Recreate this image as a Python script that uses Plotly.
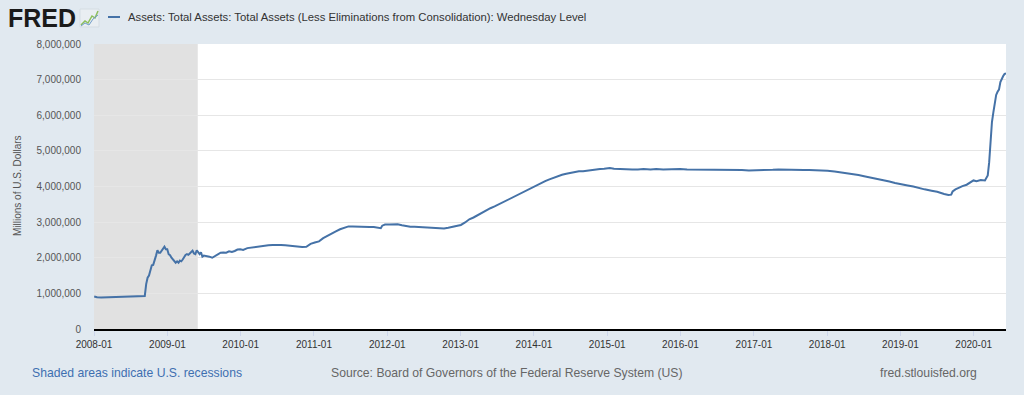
import plotly.graph_objects as go

# ---------------- data (millions of U.S. dollars, Wednesday level) ----------------
dates = [
    "2008-01-02", "2008-01-16", "2008-02-06", "2008-03-05", "2008-04-02", "2008-05-07",
    "2008-06-04", "2008-07-02", "2008-08-06", "2008-09-03", "2008-09-10", "2008-09-17",
    "2008-09-24", "2008-10-01", "2008-10-08", "2008-10-15", "2008-10-22", "2008-10-29",
    "2008-11-05", "2008-11-12", "2008-11-19", "2008-11-26", "2008-12-03", "2008-12-10",
    "2008-12-17", "2008-12-24", "2008-12-31",
    "2009-01-07", "2009-01-14", "2009-01-21", "2009-01-28", "2009-02-04", "2009-02-11",
    "2009-02-18", "2009-02-25", "2009-03-04", "2009-03-11", "2009-03-18", "2009-03-25",
    "2009-04-01", "2009-04-08", "2009-04-15", "2009-04-22", "2009-04-29", "2009-05-06",
    "2009-05-13", "2009-05-20", "2009-05-27", "2009-06-03", "2009-06-10", "2009-06-17",
    "2009-06-24", "2009-07-01", "2009-07-15", "2009-07-29", "2009-08-12", "2009-08-26",
    "2009-09-09", "2009-09-23", "2009-10-07", "2009-10-21", "2009-11-04", "2009-11-18",
    "2009-12-02", "2009-12-16", "2009-12-30",
    "2010-01-13", "2010-02-03", "2010-02-24", "2010-03-17", "2010-04-07", "2010-04-28",
    "2010-05-19", "2010-06-09", "2010-06-30", "2010-07-21", "2010-08-11", "2010-09-01",
    "2010-09-22", "2010-10-13", "2010-11-03", "2010-11-24", "2010-12-15",
    "2011-01-05", "2011-01-26", "2011-02-16", "2011-03-09", "2011-03-30", "2011-04-20",
    "2011-05-11", "2011-06-01", "2011-06-22", "2011-07-13", "2011-08-03", "2011-08-24",
    "2011-09-14", "2011-10-05", "2011-10-26", "2011-11-16", "2011-11-30", "2011-12-07",
    "2011-12-21",
    "2012-01-11", "2012-02-01", "2012-02-22", "2012-03-14", "2012-04-04", "2012-04-25",
    "2012-05-16", "2012-06-06", "2012-06-27", "2012-07-18", "2012-08-08", "2012-08-29",
    "2012-09-19", "2012-10-10", "2012-10-31", "2012-11-21", "2012-12-12",
    "2013-01-02", "2013-01-23", "2013-02-13", "2013-03-06", "2013-03-27", "2013-04-17",
    "2013-05-08", "2013-05-29", "2013-06-19", "2013-07-10", "2013-07-31", "2013-08-21",
    "2013-09-11", "2013-10-02", "2013-10-23", "2013-11-13", "2013-12-04", "2013-12-25",
    "2014-01-15", "2014-02-05", "2014-02-26", "2014-03-19", "2014-04-09", "2014-04-30",
    "2014-05-21", "2014-06-11", "2014-07-02", "2014-07-23", "2014-08-13", "2014-09-03",
    "2014-09-24", "2014-10-15", "2014-11-05", "2014-11-26", "2014-12-17",
    "2015-01-14", "2015-02-04", "2015-03-04", "2015-04-01", "2015-05-06", "2015-06-03",
    "2015-07-01", "2015-08-05", "2015-09-02", "2015-10-07", "2015-11-04", "2015-12-02",
    "2015-12-30",
    "2016-02-03", "2016-03-02", "2016-04-06", "2016-05-04", "2016-06-01", "2016-07-06",
    "2016-08-03", "2016-09-07", "2016-10-05", "2016-11-02", "2016-12-07",
    "2017-01-04", "2017-02-01", "2017-03-01", "2017-04-05", "2017-05-03", "2017-06-07",
    "2017-07-05", "2017-08-02", "2017-09-06", "2017-10-04", "2017-11-01", "2017-12-06",
    "2018-01-03", "2018-02-07", "2018-03-07", "2018-04-04", "2018-05-02", "2018-06-06",
    "2018-07-04", "2018-08-01", "2018-09-05", "2018-10-03", "2018-11-07", "2018-12-05",
    "2019-01-02", "2019-02-06", "2019-03-06", "2019-04-03", "2019-05-01", "2019-06-05",
    "2019-07-03", "2019-08-07", "2019-08-28", "2019-09-11", "2019-09-18", "2019-10-02",
    "2019-10-16", "2019-11-06", "2019-11-27", "2019-12-18", "2019-12-31",
    "2020-01-15", "2020-02-05", "2020-02-26", "2020-03-11", "2020-03-18", "2020-03-25",
    "2020-04-01", "2020-04-08", "2020-04-15", "2020-04-22", "2020-04-29", "2020-05-06",
    "2020-05-13", "2020-05-20", "2020-05-27", "2020-06-03", "2020-06-10",
]

total_assets = [
    915000, 890000, 885000, 890000, 885000, 888000,
    895000, 900000, 905000, 906000, 927000, 1260000,
    1440000, 1500000, 1630000, 1790000, 1800000, 1970000,
    2060000, 2210000, 2140000, 2140000, 2190000, 2240000,
    2310000, 2240000, 2240000,
    2100000, 2070000, 2000000, 1950000, 1880000, 1860000,
    1900000, 1860000, 1920000, 1900000, 1950000, 2030000,
    2080000, 2100000, 2080000, 2120000, 2170000, 2200000,
    2120000, 2100000, 2210000, 2140000, 2100000, 2150000,
    2030000, 2060000, 2050000, 2030000, 2000000, 2050000,
    2080000, 2140000, 2150000, 2140000, 2180000, 2160000,
    2190000, 2230000, 2240000,
    2220000, 2270000, 2290000, 2310000, 2330000, 2340000,
    2350000, 2360000, 2370000, 2360000, 2350000, 2340000,
    2310000, 2300000, 2300000, 2310000, 2390000,
    2430000, 2460000, 2550000, 2620000, 2680000, 2740000,
    2800000, 2850000, 2880000, 2880000, 2870000, 2870000,
    2860000, 2860000, 2860000, 2840000, 2830000, 2900000,
    2930000,
    2930000, 2930000, 2940000, 2910000, 2880000, 2870000,
    2870000, 2860000, 2870000, 2860000, 2840000, 2830000,
    2810000, 2820000, 2840000, 2860000, 2890000,
    2920000, 2990000, 3080000, 3130000, 3200000, 3260000,
    3330000, 3390000, 3440000, 3500000, 3560000, 3620000,
    3670000, 3740000, 3800000, 3860000, 3930000, 3990000,
    4050000, 4100000, 4150000, 4200000, 4250000, 4290000,
    4330000, 4360000, 4390000, 4410000, 4430000, 4430000,
    4450000, 4470000, 4480000, 4490000, 4500000,
    4520000, 4500000, 4490000, 4490000, 4480000, 4480000,
    4490000, 4480000, 4490000, 4480000, 4490000, 4490000,
    4490000,
    4480000, 4480000, 4480000, 4480000, 4460000, 4470000,
    4470000, 4460000, 4460000, 4460000, 4450000,
    4450000, 4450000, 4470000, 4470000, 4480000, 4470000,
    4470000, 4460000, 4460000, 4460000, 4460000, 4450000,
    4440000, 4420000, 4400000, 4380000, 4360000, 4320000,
    4290000, 4260000, 4220000, 4190000, 4140000, 4100000,
    4060000, 4030000, 4000000, 3950000, 3920000, 3880000,
    3850000, 3790000, 3760000, 3770000, 3860000, 3920000,
    3960000, 4010000, 4050000, 4130000, 4170000,
    4150000, 4180000, 4170000, 4310000, 4670000, 5250000,
    5810000, 6080000, 6370000, 6570000, 6660000, 6720000,
    6930000, 7040000, 7100000, 7160000, 7170000,
]

recession_start = "2008-01-01"
recession_end = "2009-06-01"

series_name = ("Assets: Total Assets: Total Assets (Less Eliminations from "
               "Consolidation): Wednesday Level")
y_title = "Millions of U.S. Dollars"
note_left = "Shaded areas indicate U.S. recessions"
note_source = "Source: Board of Governors of the Federal Reserve System (US)"
note_right = "fred.stlouisfed.org"

# ---------------- layout geometry ----------------
W, H = 1024, 395
ML, MR, MT, MB = 94, 18, 44, 66
PW, PH = W - ML - MR, H - MT - MB


def px(x):
    return (x - ML) / PW


def py(y):
    return 1 - (y - MT) / PH


BG = "#e1e9f0"
LINE = "#4572a7"
FONT = "Liberation Sans, Arial, sans-serif"

fig = go.Figure()
fig.add_trace(go.Scatter(
    x=dates, y=total_assets, mode="lines",
    line=dict(color=LINE, width=2), name=series_name, showlegend=False,
    hovertemplate="%{x|%Y-%m-%d}: %{y:,}<extra></extra>",
))

shapes = [
    dict(type="rect", xref="x", yref="paper", x0=recession_start, x1=recession_end,
         y0=0, y1=1, fillcolor="#e1e1e1", line=dict(width=0), layer="between"),
    # legend dash
    dict(type="line", xref="paper", yref="paper", x0=px(108), x1=px(120),
         y0=py(17), y1=py(17), line=dict(color=LINE, width=2)),
    # small FRED chart icon
    dict(type="rect", xref="paper", yref="paper", x0=px(80), x1=px(99),
         y0=py(27), y1=py(9), fillcolor="#e9eef2", line=dict(color="#d5dde3", width=1)),
    dict(type="path", xref="paper", yref="paper",
         path=(f"M {px(81)},{py(25)} L {px(85)},{py(21)} L {px(88)},{py(23)} "
               f"L {px(92)},{py(16)} L {px(95)},{py(18)} L {px(98)},{py(11)}"),
         line=dict(color="#8cbf5a", width=1.5)),
    dict(type="path", xref="paper", yref="paper",
         path=(f"M {px(81)},{py(26)} L {px(85)},{py(23)} L {px(89)},{py(25)} "
               f"L {px(93)},{py(19)} L {px(98)},{py(15)}"),
         line=dict(color="#6f9bc8", width=1)),
]

annotations = [
    dict(text="<b>FRED</b>", x=px(6), y=py(18), xref="paper", yref="paper",
         xanchor="left", yanchor="middle", showarrow=False,
         font=dict(family="Liberation Sans, Arial", size=25, color="#1a1a1a")),
    dict(text=series_name, x=px(126), y=py(17), xref="paper", yref="paper",
         xanchor="left", yanchor="middle", showarrow=False,
         font=dict(family=FONT, size=11.3, color="#333333")),
    dict(text=y_title, x=px(17), y=py(186), xref="paper", yref="paper",
         xanchor="center", yanchor="middle", showarrow=False, textangle=-90,
         font=dict(family=FONT, size=10, color="#555555")),
    dict(text=note_left, x=px(30), y=py(373), xref="paper", yref="paper",
         xanchor="left", yanchor="middle", showarrow=False,
         font=dict(family=FONT, size=12.2, color="#3e6fb0")),
    dict(text=note_source, x=px(507), y=py(373), xref="paper", yref="paper",
         xanchor="center", yanchor="middle", showarrow=False,
         font=dict(family=FONT, size=12.2, color="#666666")),
    dict(text=note_right, x=px(979), y=py(373), xref="paper", yref="paper",
         xanchor="right", yanchor="middle", showarrow=False,
         font=dict(family=FONT, size=12.2, color="#666666")),
]

fig.update_layout(
    width=W, height=H,
    margin=dict(l=ML, r=MR, t=MT, b=MB, pad=0),
    paper_bgcolor=BG, plot_bgcolor="#ffffff",
    font=dict(family=FONT, size=10, color="#333333"),
    shapes=shapes, annotations=annotations,
    xaxis=dict(
        type="date", range=["2008-01-01", "2020-06-10"],
        tick0="2008-01-01", dtick="M12", tickformat="%Y-%m",
        showgrid=False, zeroline=False,
        showline=True, linecolor="#000000", linewidth=2,
        ticks="outside", ticklen=5, tickcolor="#ccd6eb", tickwidth=1,
        tickfont=dict(size=10, color="#333333"),
    ),
    yaxis=dict(
        range=[0, 8000000], dtick=1000000, tickformat=",d",
        showgrid=True, gridcolor="#e6e6e6", gridwidth=1,
        zeroline=False, showline=False, ticks="",
        ticklabelstandoff=12,
        tickfont=dict(size=10, color="#555555"),
    ),
)

fig.write_html(
    "out.html",
    config={"displayModeBar": False},
    post_script=(
        "document.body.style.margin='0';"
        "document.body.style.padding='0';"
        f"document.body.style.background='{BG}';"
    ),
)
